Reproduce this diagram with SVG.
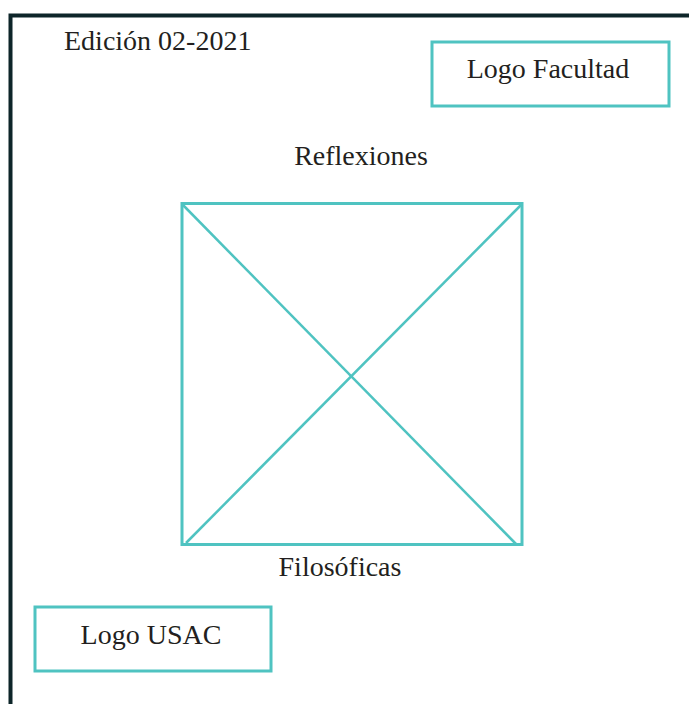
<svg xmlns="http://www.w3.org/2000/svg" width="689" height="704" viewBox="0 0 689 704">
<style>
.t{font-family:"Liberation Serif","Times New Roman",serif;font-size:28px;fill:#231f20}
.box{fill:none;stroke:#4fc3c1;stroke-width:3}
.ln{stroke:#4fc3c1;stroke-width:2.5;fill:none}
</style>
<rect width="689" height="704" fill="#ffffff"/>
<path d="M10.5 704 V15.5 H689" fill="none" stroke="#0d2529" stroke-width="4"/>
<text class="t" x="64" y="50">Edición 02-2021</text>
<g id="logo-facultad">
<rect class="box" x="432" y="42" width="237" height="64"/>
<text class="t" x="548" y="78" text-anchor="middle">Logo Facultad</text>
</g>
<text class="t" x="361" y="165" text-anchor="middle">Reflexiones</text>
<g id="placeholder">
<rect class="box" x="182" y="203.5" width="340" height="341"/>
<g class="connectors">
<line class="ln" x1="182" y1="204" x2="516" y2="544"/>
<line class="ln" x1="522" y1="204" x2="186" y2="543"/>
</g>
</g>
<text class="t" x="340" y="576" text-anchor="middle">Filosóficas</text>
<g id="logo-usac">
<rect class="box" x="35" y="607" width="236" height="64"/>
<text class="t" x="151" y="644" text-anchor="middle">Logo USAC</text>
</g>
</svg>
